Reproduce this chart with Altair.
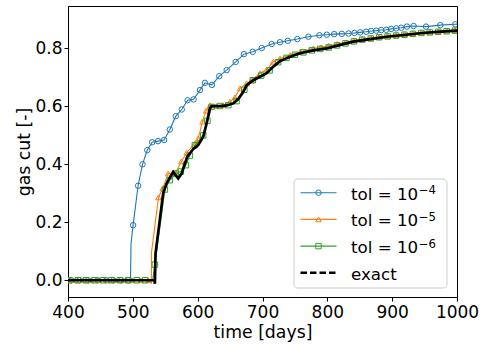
import altair as alt
import pandas as pd

# ---------------- data ----------------
series_labels = ["tol = 10", "tol = 10", "tol = 10", "exact"]
series_sups = ["−4", "−5", "−6", ""]
series_colors = ["#1f77b4", "#ff7f0e", "#2ca02c", "#000000"]
series_shapes = ["circle", "triangle-up", "square"]

x_ticks = [400, 500, 600, 700, 800, 900, 1000]
y_ticks = [0.0, 0.2, 0.4, 0.6, 0.8]

# tol = 1e-4
t_tol4 = [400, 405, 418, 431, 446, 459, 470, 482, 493, 496.4, 497.2, 500.4, 508.1, 514.9,
          522.3, 529.8, 538.9, 548.3, 557.1, 566.2, 575.5, 584.5, 593.7, 603.5, 611.2,
          622.0, 633.3, 644.7, 658.6, 671.4, 684.9, 698.8, 714.2, 727.0, 739.0, 753.8,
          770.8, 787.8, 799.2, 810.5, 822.4, 832.6, 841.8, 850.6, 859.9, 867.6, 875.4,
          883.1, 890.8, 898.5, 906.3, 914.0, 922.8, 933.0, 952.2, 974.2, 997.4, 1020]
g_tol4 = [0, 0, 0, 0, 0, 0, 0, 0, 0, 0, 0.127, 0.19, 0.326, 0.40,
          0.449, 0.476, 0.48, 0.484, 0.52, 0.566, 0.589, 0.621, 0.624, 0.656, 0.681,
          0.674, 0.704, 0.725, 0.753, 0.78, 0.788, 0.801, 0.815, 0.821, 0.826, 0.832,
          0.840, 0.845, 0.847, 0.849, 0.850, 0.851, 0.853, 0.855, 0.857, 0.860, 0.861,
          0.863, 0.864, 0.867, 0.869, 0.871, 0.875, 0.877, 0.875, 0.880, 0.883, 0.886]
nomark_tol4 = [496.4, 497.2]

# tol = 1e-5
t_tol5 = [400, 412, 424, 436, 448, 461, 473, 486, 499, 512, 524, 528.5, 528.9, 539.5,
          546, 554.5, 566, 575, 583, 595.5, 601, 607.3, 613, 619, 629, 639.5, 649.8,
          657.5, 665.3, 675.6, 683.3, 696.2, 706.5, 716.7, 727, 742.5, 758, 778.5, 790,
          802, 815, 828, 841, 854, 867, 880, 893, 906, 919, 932, 945, 958, 971, 984, 997, 1010]
g_tol5 = [0, 0, 0, 0, 0, 0, 0, 0, 0, 0, 0, -0.01, 0.098, 0.286,
          0.317, 0.368, 0.372, 0.41, 0.44, 0.472, 0.49, 0.547, 0.585, 0.603, 0.601, 0.604, 0.616,
          0.631, 0.662, 0.679, 0.69, 0.714, 0.727, 0.754, 0.765, 0.777, 0.788, 0.80, 0.804,
          0.809, 0.815, 0.821, 0.827, 0.832, 0.836, 0.840, 0.843, 0.846, 0.849, 0.852, 0.855,
          0.857, 0.859, 0.861, 0.863, 0.865]
nomark_tol5 = [528.5, 528.9]

# tol = 1e-6
t_tol6 = [402, 415, 428, 441, 454, 467, 480, 493, 506, 519, 530.5, 534, 549.4, 557, 566,
          574, 581.8, 588, 595.7, 608.6, 615, 621.5, 634.4, 647.3, 660, 672, 685, 698, 711,
          724, 737, 750, 763, 776, 789, 802, 815, 828, 841, 854, 867, 880, 893, 906, 919,
          932, 945, 958, 971, 984, 997, 1010]
g_tol6 = [0, 0, 0, 0, 0, 0, 0, 0, 0, 0, 0, 0.054, 0.313, 0.345, 0.368,
          0.375, 0.397, 0.43, 0.466, 0.50, 0.55, 0.598, 0.601, 0.604, 0.618, 0.657, 0.69, 0.706, 0.724,
          0.752, 0.767, 0.778, 0.786, 0.793, 0.798, 0.803, 0.810, 0.817, 0.824, 0.830, 0.834,
          0.838, 0.841, 0.844, 0.847, 0.850, 0.853, 0.855, 0.857, 0.859, 0.861, 0.863]
nomark_tol6 = [530.5]

# exact
t_exact = [390, 533.5, 534.0, 535.0, 546.8, 552, 562.2, 570, 575.2, 583.9, 593, 600.8, 608.6,
           613.8, 618.9, 621.5, 634.4, 645, 655, 662.6, 670.4, 675.6, 685.8, 696.1, 706.5,
           716.7, 727, 742.5, 758, 778.5, 799.2, 820, 840, 866, 892, 918, 943, 970, 1000, 1020]
g_exact = [0, 0, -0.012, 0.092, 0.30, 0.334, 0.374, 0.351, 0.368, 0.426, 0.452, 0.466, 0.495,
           0.541, 0.593, 0.601, 0.601, 0.603, 0.61, 0.625, 0.65, 0.673, 0.69, 0.702, 0.714,
           0.737, 0.756, 0.771, 0.783, 0.793, 0.80, 0.812, 0.823, 0.832, 0.840, 0.846, 0.852,
           0.857, 0.861, 0.864]

# ---------------- chart ----------------
W, H = 389, 291
X_DOM = [400, 1000]
Y_DOM = [-0.0577, 0.946]
FONT = "DejaVu Sans"
FS_TICK = 17
FS_TITLE = 17.3
FS_LEG = 16.7

def frame(t, g, nomark):
    return pd.DataFrame({"t": t, "g": g, "marker": [tt not in nomark for tt in t]})

xenc = alt.X("t:Q", scale=alt.Scale(domain=X_DOM, nice=False, zero=False),
             axis=alt.Axis(values=x_ticks, format="d", title="time [days]",
                           labelPadding=3, titlePadding=3, labelFlush=False,
                           labelOverlap=False, labelBound=False))
yenc = alt.Y("g:Q", scale=alt.Scale(domain=Y_DOM, nice=False, zero=False),
             axis=alt.Axis(values=y_ticks, format=".1f", title="gas cut [-]",
                           labelPadding=2, titlePadding=1, labelFlush=False,
                           labelOverlap=False, labelBound=False))

layers = []
tol_data = [(t_tol4, g_tol4, nomark_tol4), (t_tol5, g_tol5, nomark_tol5), (t_tol6, g_tol6, nomark_tol6)]
for (t, g, nm), color, shape in zip(tol_data, series_colors[:3], series_shapes):
    base = alt.Chart(frame(t, g, nm))
    layers.append(base.mark_line(color=color, strokeWidth=1.1, clip=True).encode(x=xenc, y=yenc))
    layers.append(base.transform_filter("datum.marker").mark_point(
        shape=shape, color=color, filled=False, size=30, strokeWidth=1, opacity=1, clip=True
    ).encode(x=xenc, y=yenc))

exact_df = pd.DataFrame({"t": t_exact, "g": g_exact})
layers.append(alt.Chart(exact_df).mark_line(color="black", strokeWidth=2.7, clip=True)
              .encode(x=xenc, y=yenc))

# ---------------- legend (drawn manually, matplotlib style) ----------------
one = alt.Data(values=[{}])
LX0, LX1, LY0, LY1 = 226, 379, 173, 282
row_y0, row_dy = 186.7, 26.7
TEXT_X = 283
SUP_X = TEXT_X + 4.028 * FS_LEG + 0.5   # advance of "tol = 10" in DejaVu Sans
layers.append(alt.Chart(one).mark_rect(fill="white", fillOpacity=0.8, stroke="#cccccc",
                                       strokeWidth=1, cornerRadius=4)
              .encode(x=alt.value(LX0), x2=alt.value(LX1), y=alt.value(LY0), y2=alt.value(LY1)))
for i, (lab, sup, col) in enumerate(zip(series_labels, series_sups, series_colors)):
    ry = row_y0 + i * row_dy
    if i < 3:
        layers.append(alt.Chart(one).mark_rule(color=col, strokeWidth=1.1)
                      .encode(x=alt.value(232.5), x2=alt.value(268.5), y=alt.value(ry)))
        layers.append(alt.Chart(one).mark_point(shape=series_shapes[i], color=col, filled=False,
                                                size=30, strokeWidth=1, opacity=1)
                      .encode(x=alt.value(250.5), y=alt.value(ry)))
    else:
        layers.append(alt.Chart(one).mark_rule(color=col, strokeWidth=2.6, strokeDash=[6.5, 3])
                      .encode(x=alt.value(232.5), x2=alt.value(268.5), y=alt.value(ry)))
    layers.append(alt.Chart(one).mark_text(align="left", baseline="alphabetic", font=FONT,
                                           fontSize=FS_LEG, color="black")
                  .encode(x=alt.value(TEXT_X), y=alt.value(ry + 6.8), text=alt.value(lab)))
    if sup:
        layers.append(alt.Chart(one).mark_text(align="left", baseline="alphabetic", font=FONT,
                                               fontSize=FS_LEG * 0.7, color="black")
                      .encode(x=alt.value(SUP_X), y=alt.value(ry + 1.6), text=alt.value(sup)))

chart = alt.layer(*layers).properties(
    width=W, height=H,
    autosize=alt.AutoSizeParams(type="none"),
    padding={"left": 68, "top": 6, "right": 24, "bottom": 48},
).configure_axis(
    labelFont=FONT, titleFont=FONT, labelFontSize=FS_TICK, titleFontSize=FS_TITLE,
    titleFontWeight="normal", labelColor="black", titleColor="black",
    tickColor="black", domainColor="black", tickSize=4, tickWidth=1, domainWidth=1,
    grid=False,
).configure_view(stroke="black", strokeWidth=1)

chart.save("out.html", embed_options={"renderer": "svg", "actions": False})
